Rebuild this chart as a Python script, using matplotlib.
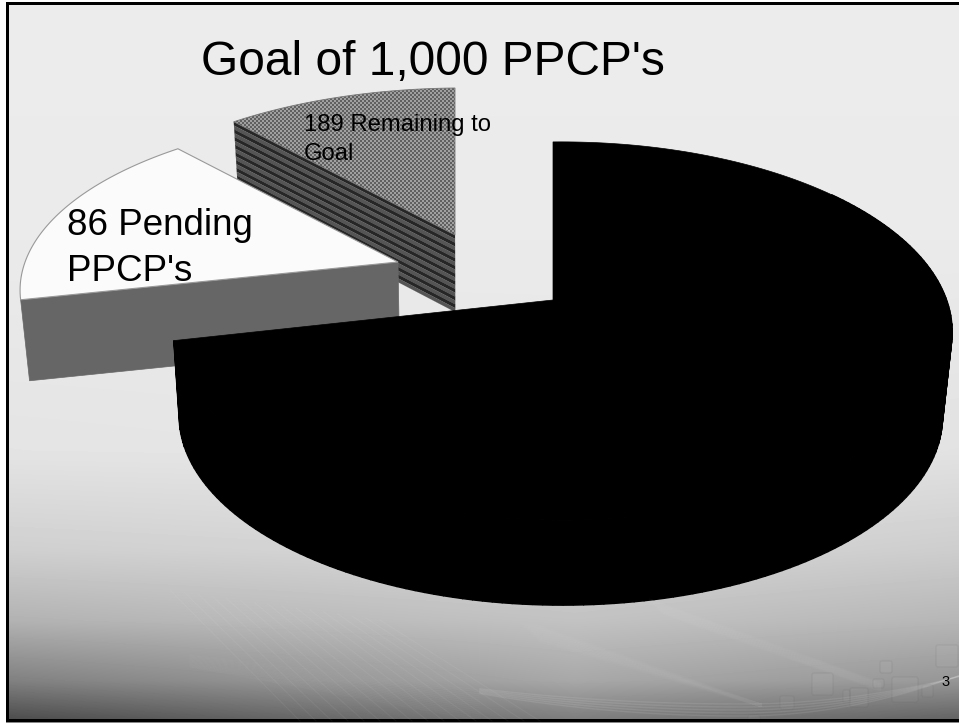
import numpy as np
import matplotlib
matplotlib.use('Agg')
import matplotlib.pyplot as plt
from matplotlib.patches import Polygon, Rectangle, FancyBboxPatch

plt.rcParams['font.family'] = ['Liberation Sans', 'DejaVu Sans']

# slice sizes as they look in the picture (clockwise from 12 o'clock)
slice_names = ['Reached', 'Pending', 'Remaining']
slice_values = [715, 171, 114]
chart_title = "Goal of 1,000 PPCP's"
pending_label = "86 Pending\nPPCP's"
remaining_label = "189 Remaining to\nGoal"
page_number = '3'

# pie geometry in pixels: apex x, apex y, x size, y size, depth
apex = {'Reached': (553, 300, 1.0, 1.0, 85),
        'Pending': (398, 262, 0.995, 0.93, 81),
        'Remaining': (455, 235, 1.0, 0.93, 77)}
W, H = 959, 723
A, B, K, M = 384, 184, 0.164, -0.0245
VANISH_X, SHRINK = 466, 0.98


def rim(theta, name):
    cx, cy, size_x, size_y, _ = apex[name]
    x, y = np.sin(theta), np.cos(theta)
    w = 1 + K * y + M * x
    return np.column_stack([cx + size_x * A * x / w, cy - size_y * B * y / w])


def lower(points, name):
    depth = apex[name][4]
    return np.column_stack([VANISH_X + (points[:, 0] - VANISH_X) * SHRINK, points[:, 1] + depth])


def background():
    yy, xx = np.mgrid[0:H, 0:W]
    stops = [0, 250, 450, 550, 620, 680, 722]
    left = np.interp(yy, stops, [236, 234, 228, 207, 178, 128, 72])
    mid = np.interp(yy, stops, [236, 234, 230, 214, 194, 168, 122])
    right = np.interp(yy, stops, [236, 234, 226, 205, 182, 150, 95])
    t = xx / (W - 1)
    img = np.where(t < 0.6, left + (mid - left) * t / 0.6, mid + (right - mid) * (t - 0.6) / 0.4)
    img[:, :6] = 255
    img[:2, :] = 255
    img[721:, 6:] = 135
    return img


angles = np.cumsum([0] + slice_values) / sum(slice_values) * 2 * np.pi
edges = dict(zip(slice_names, zip(angles[:-1], angles[1:])))

fig = plt.figure(figsize=(W / 100, H / 100), dpi=100)
ax = fig.add_axes([0, 0, 1, 1])
ax.imshow(background(), cmap='gray', vmin=0, vmax=255, extent=(0, W, H, 0), aspect='auto', interpolation='bilinear')

# swooshes of the slide template
xs = np.linspace(480, 959, 120)
for i in range(5):
    ys = 708 + i * 3 - 0.00030 * (xs - 740) ** 2 * (1 + i * 0.12) * np.where(xs > 740, 1.9, 0.75) - 4
    ax.plot(xs, ys, color='white', alpha=0.09, lw=1)
for i in range(16):
    ax.plot([170 + i * 14, 300 + i * 16], [590 + i * 2, 721], color='white', alpha=0.05, lw=0.8)
    ax.plot([190, 480], [655 + i * 0.8, 690 + i * 2], color='white', alpha=0.02, lw=1)
for i in range(8):
    ax.plot([650 + i * 2, 880], [600 + i * 2, 683 + i], color='white', alpha=0.025, lw=2)
    ax.plot([520 + i * 3, 760], [620 + i * 3, 705], color='white', alpha=0.015, lw=3)
for x0, y0, x1, y1 in [(812, 673, 833, 695), (780, 696, 794, 709), (850, 688, 868, 707), (843, 690, 850, 702),
                       (873, 679, 884, 688), (880, 661, 892, 673), (892, 677, 918, 702), (922, 685, 933, 697),
                       (936, 645, 958, 667), (748, 715, 760, 724)]:
    ax.add_patch(FancyBboxPatch((x0 + 2, y0 + 2), x1 - x0 - 4, y1 - y0 - 4, boxstyle='round,pad=2',
                                fc=(1, 1, 1, 0.03), ec=(0.35, 0.35, 0.35, 0.1), lw=1))

# remaining slice: striped wall and dotted top
t0, t1 = edges['Remaining']
arc = rim(np.linspace(t0, t1, 60), 'Remaining')
tip = np.array([apex['Remaining'][:2]], dtype=float)
wall_top = np.vstack([arc[:1], tip])
wall_low = lower(wall_top, 'Remaining')
bands = 20
for i in range(bands):
    a = wall_top + (wall_low - wall_top) * i / bands
    b = wall_top + (wall_low - wall_top) * (i + 1) / bands
    colour = '#262626' if i % 2 == 0 else '#555555'
    ax.add_patch(Polygon(np.vstack([a, b[::-1]]), fc=colour, ec=colour, lw=0.1))
top_patch = Polygon(np.vstack([tip, arc]), fc='none', ec='#777777', lw=0.6)
ax.add_patch(top_patch)
yy, xx = np.mgrid[0:H, 0:W]
dots = np.where((xx // 2 + yy // 2) % 2 == 0, 96, 160)
im = ax.imshow(dots, cmap='gray', vmin=0, vmax=255, extent=(0, W, H, 0), aspect='auto', interpolation='nearest')
im.set_clip_path(top_patch)

# pending slice
t0, t1 = edges['Pending']
arc = rim(np.linspace(t0, t1, 60), 'Pending')
tip = np.array([apex['Pending'][:2]], dtype=float)
wall_top = np.vstack([arc[:1], tip])
ax.add_patch(Polygon(np.vstack([wall_top, lower(wall_top, 'Pending')[::-1]]), fc='#666666', ec='#666666', lw=0.5))
ax.add_patch(Polygon(np.vstack([tip, arc]), fc='#fbfbfb', ec='#999999', lw=0.8))

# big black slice, wall made of small quads so the outline stays tangent
t0, t1 = edges['Reached']
arc = rim(np.linspace(t0, t1, 200), 'Reached')
low = lower(arc, 'Reached')
tip = np.array([apex['Reached'][:2]], dtype=float)
for i in range(40, len(arc) - 1):
    ax.add_patch(Polygon([arc[i], arc[i + 1], low[i + 1], low[i]], fc='black', ec='black', lw=1))
ax.add_patch(Polygon(np.vstack([tip, arc]), fc='black', ec='black', lw=0.5))

# frame of the slide
for x, y, w, h in [(6, 2, W - 6, 2.5), (6, 2, 2.5, 720), (6, 719, W - 6, 2.5)]:
    ax.add_patch(Rectangle((x, y), w, h, fc='black', ec='none'))

ax.text(201, 75, chart_title, fontsize=34.5, ha='left', va='baseline', color='black')
ax.text(67, 281, pending_label, fontsize=26.5, ha='left', va='baseline', color='black', linespacing=1.39)
ax.text(304, 160, remaining_label, fontsize=17.2, ha='left', va='baseline', color='black', linespacing=1.39)
ax.text(941, 686, page_number, fontsize=10.5, ha='left', va='baseline', color='black')

ax.set_xlim(0, W)
ax.set_ylim(H, 0)
ax.axis('off')
fig.savefig('out.png', dpi=100)
